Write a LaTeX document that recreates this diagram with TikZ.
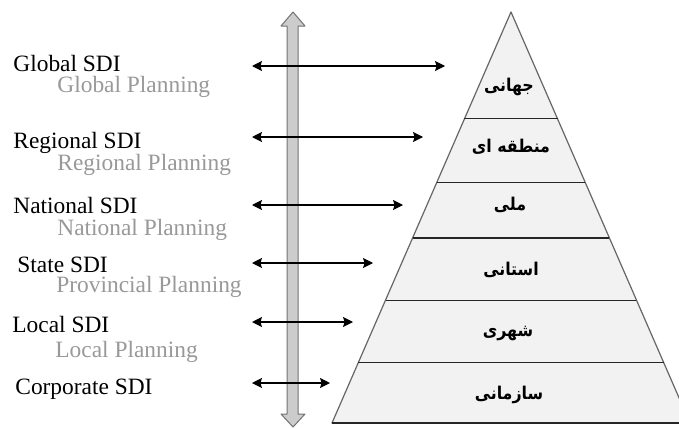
\documentclass[tikz,border=0pt]{standalone}
\usepackage{fontspec}
\setmainfont{Liberation Serif}
\newfontfamily\farsifont[Script=Arabic]{DejaVu Sans Condensed}
\TeXXeTstate=1
\usetikzlibrary{calc,arrows.meta}

\tikzset{
  sdilabel/.style={anchor=base west, inner sep=0pt, font=\fontsize{11.7}{13}\selectfont},
  planlabel/.style={sdilabel, text=black!40},
  layerlabel/.style={inner sep=0pt, font=\farsifont\bfseries\fontsize{8.8}{10}\selectfont},
  linkarrow/.style={line width=0.6pt, {Stealth[length=5pt,width=5pt,inset=0.8pt]}-{Stealth[length=5pt,width=5pt,inset=0.8pt]}},
  bandline/.style={line width=0.6pt, black!85}
}

\begin{document}
\begin{tikzpicture}[x=0.5pt, y=-0.5pt, line join=round]
\clip (0,0) rectangle (679,428);
\fill[white] (0,0) rectangle (679,428);

% pyramid
\coordinate (apex) at (511,12);
\coordinate (bl) at (332,423);
\coordinate (br) at (690,423);
\draw[black!60, fill=black!5, line width=0.6pt] (apex)--(bl)--(br)--cycle;
\foreach \t in {0.260,0.414,0.550,0.701,0.852}
  \draw[bandline] ($(apex)!\t!(bl)$)--($(apex)!\t!(br)$);
\draw[bandline] (bl)--(br);

\node[layerlabel] (jahani) at (509,87) {\beginR جهانی\endR};
\node[layerlabel] (mantaghe) at (511,147) {\beginR منطقه ای\endR};
\node[layerlabel] (melli) at (510,205) {\beginR ملی\endR};
\node[layerlabel] (ostani) at (511,270) {\beginR استانی\endR};
\node[layerlabel] (shahri) at (508,333) {\beginR شهری\endR};
\node[layerlabel] (sazmani) at (509,395) {\beginR سازمانی\endR};

% vertical double arrow
\draw[black!55, fill=black!20, line width=0.5pt]
  (293,12)--(305,26)--(298,26)--(298,414)--(305,414)--(293,427)--(281,414)--(287,414)--(287,26)--(281,26)--cycle;

% left labels
\node[sdilabel] (gsdi) at (13,71) {Global SDI};
\node[planlabel] (gplan) at (57,92) {Global Planning};
\node[sdilabel] (rsdi) at (13,148) {Regional SDI};
\node[planlabel] (rplan) at (57,170) {Regional Planning};
\node[sdilabel] (nsdi) at (13,213) {National SDI};
\node[planlabel] (nplan) at (57,235) {National Planning};
\node[sdilabel] (ssdi) at (17,272) {State SDI};
\node[planlabel] (pplan) at (56,292) {Provincial Planning};
\node[sdilabel] (lsdi) at (12,332) {Local SDI};
\node[planlabel] (lplan) at (55,357) {Local Planning};
\node[sdilabel] (csdi) at (15,394) {Corporate SDI};

% level arrows
\foreach \name/\y/\xr in {glob/66/445, reg/137/423, nat/205/403, sta/263/373, loc/322/353, corp/383/330}{
  \coordinate (\name-l) at (252,\y);
  \coordinate (\name-r) at (\xr,\y);
  \draw[linkarrow] (\name-l)--(\name-r);
}
\end{tikzpicture}
\end{document}
